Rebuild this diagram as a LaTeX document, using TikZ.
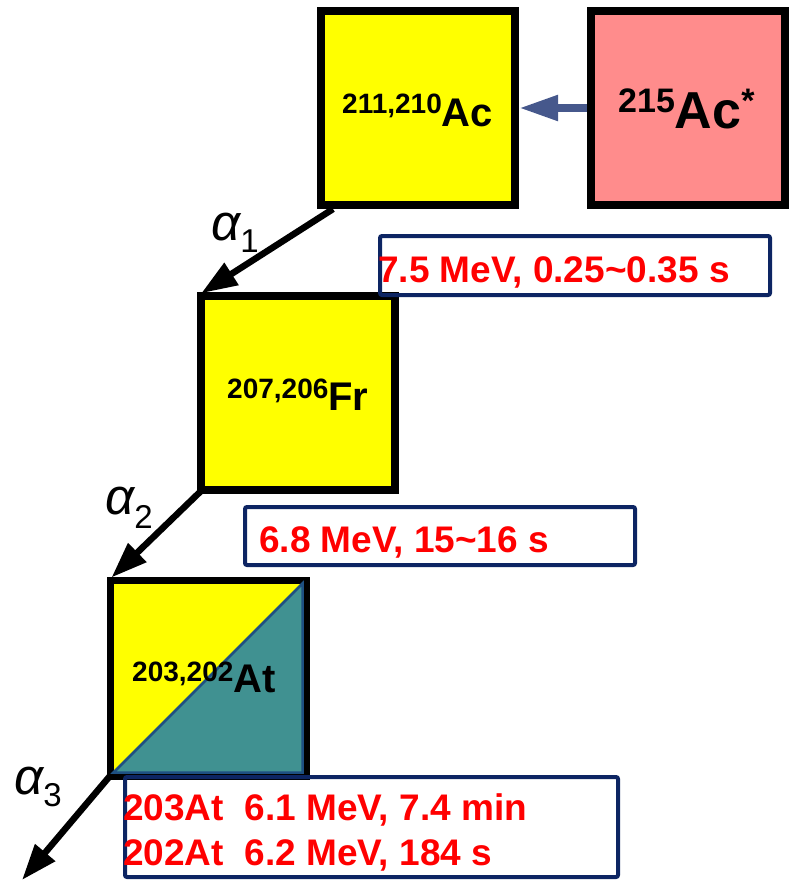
\documentclass[tikz,border=0pt]{standalone}
\usepackage{fontspec}
\setmainfont{Liberation Sans}
\usetikzlibrary{arrows.meta,calc}
\definecolor{pinkbox}{RGB}{255,140,140}
\definecolor{tealfill}{RGB}{64,145,145}
\definecolor{arrowblue}{RGB}{70,88,140}
\definecolor{boxblue}{RGB}{13,37,99}
\definecolor{triblue}{RGB}{30,80,130}
\definecolor{yel}{RGB}{255,255,0}
\definecolor{redtxt}{RGB}{255,0,0}
\begin{document}
\begin{tikzpicture}[x=1pt,y=-1pt,
  nucbox/.style={draw=black,line width=8pt,minimum width=194pt,minimum height=194pt,inner sep=0pt},
  infobox/.style={draw=boxblue,line width=4pt,rounded corners=2pt,inner sep=0pt},
  redlabel/.style={anchor=base west,inner sep=0pt,text=redtxt,font=\fontsize{37}{44}\selectfont\bfseries},
  nuclabel/.style={anchor=base west,inner sep=0pt,font=\bfseries},
  alphalabel/.style={anchor=base west,inner sep=0pt},
  decay/.style={draw=black,line width=6.5pt,-{Triangle[length=36pt,width=25pt]}},
  feed/.style={draw=arrowblue,line width=8pt,-{Triangle[length=39pt,width=24pt]}}]
\useasboundingbox (0,0) rectangle (792,881);

% nuclide boxes
\node[nucbox,fill=yel] (ac) at (418,108) {};
\node[nucbox,fill=pinkbox] (acs) at (688,108) {};
\node[nucbox,fill=yel,line width=7.5pt] (fr) at (298,393) {};
\node[nucbox,fill=yel,line width=7pt,minimum width=196pt,minimum height=196pt] (at) at (208,678) {};
\fill[tealfill,draw=triblue,line width=2.5pt,line join=miter]
  (113.5,772.5) -- (302.5,583.5) -- (302.5,772.5) -- cycle;

% nuclide labels
\node[nuclabel] (aclab) at (342,126)
  {{\fontsize{28}{28}\selectfont\raisebox{13pt}{211,210}}{\fontsize{40}{40}\selectfont Ac}};
\node[nuclabel] (acslab) at (618,128)
  {{\fontsize{34}{34}\selectfont\raisebox{16pt}{215}}{\fontsize{52}{52}\selectfont Ac}{\fontsize{34}{34}\selectfont\raisebox{16pt}{*}}};
\node[nuclabel] (frlab) at (227,410)
  {{\fontsize{28}{28}\selectfont\raisebox{12pt}{207,206}}{\fontsize{40}{40}\selectfont Fr}};
\node[nuclabel] (atlab) at (132,692)
  {{\fontsize{28}{28}\selectfont\raisebox{11pt}{203,202}}{\fontsize{40}{40}\selectfont At}};

% feeding arrow
\draw[feed] (acs.west) -- (ac.east);

% decay arrows
\coordinate (end3) at (22,880);
\draw[decay] ($(ac.south west)+(16,0)$) -- ($(fr.north west)+(4,1)$);
\draw[decay] ($(fr.south west)+(4,-3)$) -- ($(at.north west)+(5,1)$);
\draw[decay] ($(at.south west)+(3,-3)$) -- (end3);

% alpha labels
\node[alphalabel] (a1) at (211,240)
  {{\fontsize{51}{51}\selectfont\itshape α}{\fontsize{33}{33}\selectfont\raisebox{-12pt}{1}}};
\node[alphalabel] (a2) at (105,514)
  {{\fontsize{51}{51}\selectfont\itshape α}{\fontsize{33}{33}\selectfont\raisebox{-14pt}{2}}};
\node[alphalabel] (a3) at (14,794)
  {{\fontsize{51}{51}\selectfont\itshape α}{\fontsize{33}{33}\selectfont\raisebox{-12pt}{3}}};

% info boxes
\node[infobox,minimum width=390pt,minimum height=59pt] (b1) at (575,265.5) {};
\node[infobox,minimum width=390pt,minimum height=58pt] (b2) at (440,536) {};
\node[infobox,minimum width=493pt,minimum height=100pt] (b3) at (371.5,827) {};

\node[redlabel] (t1) at (378,282) {7.5 MeV, 0.25\textasciitilde 0.35 s};
\node[redlabel] (t2) at (259,552) {6.8 MeV, 15\textasciitilde 16 s};
\node[redlabel] (t3a) at (123,820) {203At\ \ 6.1 MeV, 7.4 min};
\node[redlabel] (t3b) at (123,865) {202At\ \ 6.2 MeV, 184 s};
\end{tikzpicture}
\end{document}
